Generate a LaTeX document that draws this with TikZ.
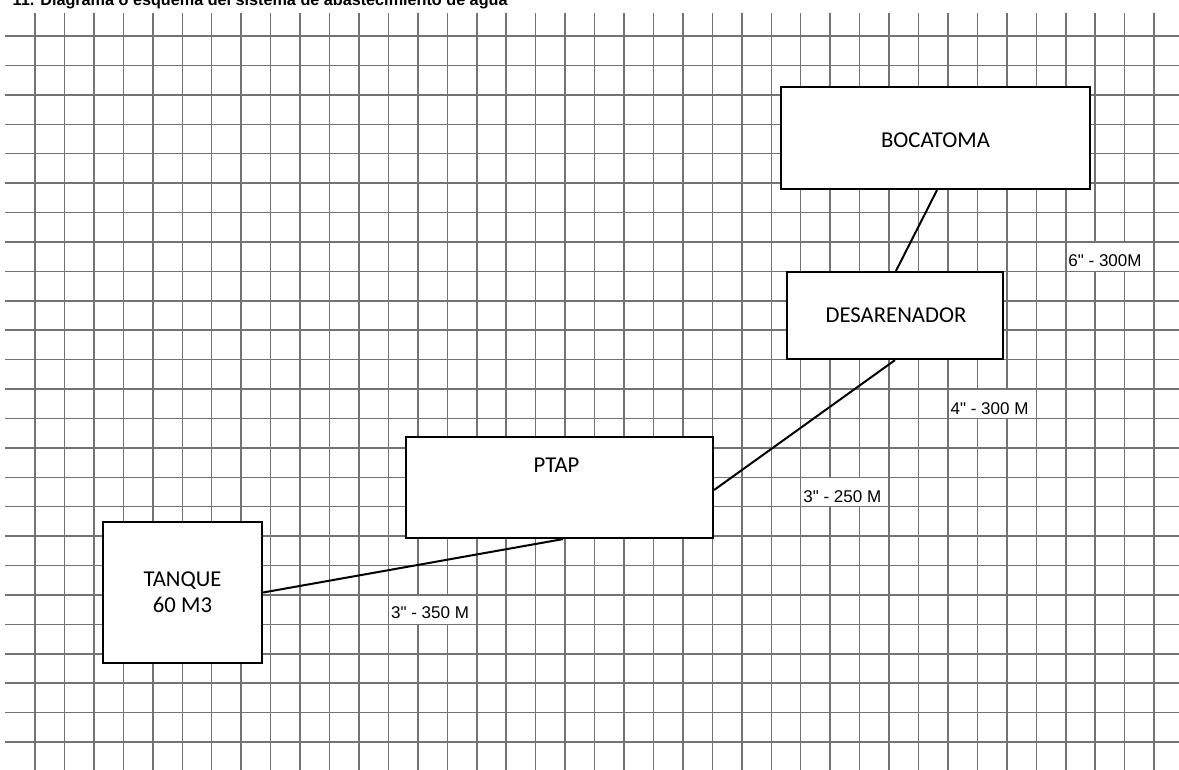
\documentclass[tikz,border=0pt]{standalone}
\usepackage{fontspec}
\setmainfont{Liberation Sans}
\newfontfamily\cellfont{Liberation Sans}[Ligatures=TeXOff]
\newfontfamily\boxfont{Carlito}
\usetikzlibrary{calc}
\begin{document}
\begin{tikzpicture}[x=1pt,y=-1pt,
  gridline/.style={black!55, line width=1.5pt},
  boxnode/.style={draw=black, fill=white, line width=2.2pt, inner sep=0pt},
  boxtext/.style={font=\boxfont\fontsize{22.7}{26}\selectfont, inner sep=0pt, anchor=base},
  celltext/.style={font=\cellfont\fontsize{17}{20}\selectfont, inner sep=0pt, anchor=base west},
  cellfill/.style={fill=white},
  pipe/.style={line width=2pt, black}]
\path[fill=white] (0,0) rectangle (1179,770);
\useasboundingbox (0,0) rectangle (1179,770);
% grid
\foreach \k in {0,...,38} \draw[gridline] ({35+29.45*\k},13) -- ({35+29.45*\k},770);
\foreach \j in {0,...,24} \draw[gridline] (5,{36+29.42*\j}) -- (1179,{36+29.42*\j});
% title
\node[font=\bfseries\fontsize{16.2}{19}\selectfont, anchor=base west, inner sep=0pt] (title) at (12.5,5.5) {11. Diagrama o esquema del sistema de abastecimiento de agua};
% label cells
\path[cellfill] (1065.75,241.94) rectangle (1154.1,271.36);
\draw[gridline] (1065.75,241.94) rectangle (1154.1,271.36);
\node[celltext] (l1) at (1068.25,266.4) {6" - 300M};
\path[cellfill] (947.95,389.04) rectangle (1036.3,418.46);
\draw[gridline] (947.95,389.04) rectangle (1036.3,418.46);
\node[celltext] (l2) at (950.45,414.2) {4" - 300 M};
\path[cellfill] (800.7,477.3) rectangle (889.05,506.72);
\draw[gridline] (800.7,477.3) rectangle (889.05,506.72);
\node[celltext] (l3) at (803.2,502) {3" - 250 M};
\path[cellfill] (388.4,594.98) rectangle (476.75,624.4);
\draw[gridline] (388.4,594.98) rectangle (476.75,624.4);
\node[celltext] (l4) at (390.9,618.5) {3" - 350 M};
% boxes
\node[boxnode, minimum width=309pt, minimum height=102pt] (boc) at (935.5,138) {};
\node[boxnode, minimum width=216pt, minimum height=87pt] (des) at (895,315.5) {};
\node[boxnode, minimum width=307pt, minimum height=101pt] (ptap) at (559.5,487.5) {};
\node[boxnode, minimum width=159pt, minimum height=141pt] (tan) at (182.5,592.5) {};
\node[boxtext] (boctxt) at (935.5,147.5) {BOCATOMA};
\node[boxtext] (destxt) at (896,322.5) {DESARENADOR};
\node[boxtext] (ptaptxt) at (556.5,472) {PTAP};
\node[boxtext, anchor=center, align=center] (tantxt) at (182.5,592.7) {TANQUE\\60 M3};
% connectors
\draw[pipe] ([xshift=1.5pt]boc.south) -- ([xshift=1pt]des.north);
\draw[pipe] (des.south) -- ([yshift=-2.5pt]ptap.east);
\draw[pipe] ([xshift=3.5pt]ptap.south) -- (tan.east);
\end{tikzpicture}
\end{document}
